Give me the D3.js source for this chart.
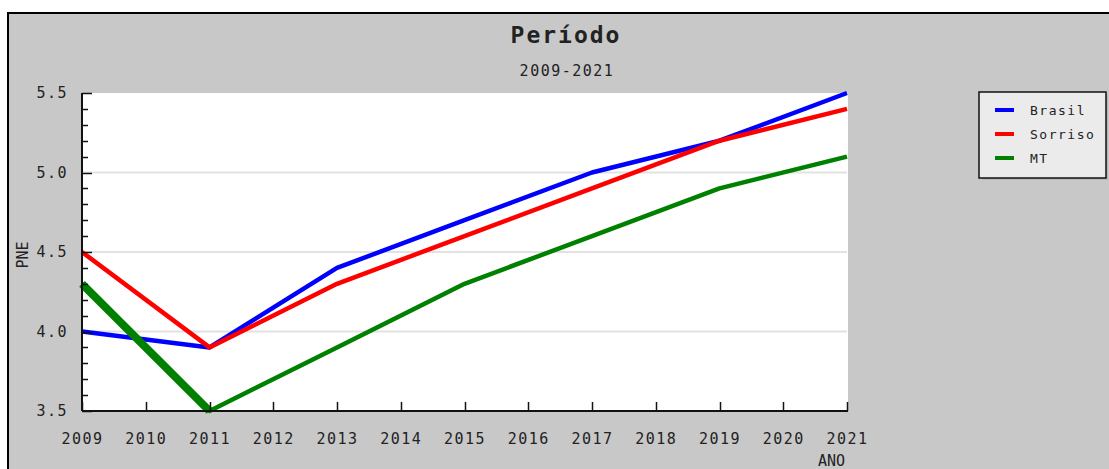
<!DOCTYPE html>
<html>
<head>
<script src="https://d3js.org/d3.v7.min.js"></script>
<style>
  body { margin: 0; background: #fff; }
  text { font-family: "DejaVu Sans Mono", monospace; fill: #222; }
</style>
<title>Período</title>
</head>
<body>
<script>
// data
var years = [2009, 2011, 2013, 2015, 2017, 2019, 2021];
var brasil = [4.0, 3.9, 4.4, 4.7, 5.0, 5.2, 5.5];
var sorriso = [4.5, 3.9, 4.3, 4.6, 4.9, 5.2, 5.4];
var mt = [4.3, 3.5, 3.9, 4.3, 4.6, 4.9, 5.1];
var seriesNames = ["Brasil", "Sorriso", "MT"];
var seriesColors = ["#0000ff", "#ff0000", "#008000"];
var yTicks = [3.5, 4.0, 4.5, 5.0, 5.5];
var xTicks = d3.range(2009, 2022);

var width = 1109, height = 469;
var svg = d3.select("body").append("svg")
    .attr("width", width).attr("height", height);

// outer panel
svg.append("rect")
    .attr("x", 8).attr("y", 13)
    .attr("width", width + 20).attr("height", height + 20)
    .attr("fill", "#c8c8c8")
    .attr("stroke", "#000").attr("stroke-width", 2);

var pLeft = 82, pRight = 847, pTop = 93, pBottom = 411;
var x = d3.scaleLinear().domain([2009, 2021]).range([pLeft, pRight]);
var y = d3.scaleLinear().domain([3.5, 5.5]).range([pBottom, pTop]);

svg.append("rect")
    .attr("x", pLeft).attr("y", pTop)
    .attr("width", pRight - pLeft + 1).attr("height", pBottom - pTop)
    .attr("fill", "#fff");

// grid
svg.selectAll(".grid").data(yTicks.slice(1, -1)).enter()
    .append("line")
    .attr("x1", pLeft).attr("x2", pRight)
    .attr("y1", d => y(d)).attr("y2", d => y(d))
    .attr("stroke", "#e2e2e2").attr("stroke-width", 2);

// titles
svg.append("text").attr("x", 566).attr("y", 43)
    .attr("text-anchor", "middle")
    .style("font-size", "23px").style("font-weight", "bold")
    .style("letter-spacing", "2px")
    .text("Período");
svg.append("text").attr("x", 567).attr("y", 76)
    .attr("text-anchor", "middle")
    .style("font-size", "15px").style("letter-spacing", "1.5px")
    .text("2009-2021");

// lines
var line = d3.line().x((d, i) => x(years[i])).y(d => y(d));
var all = [brasil, sorriso, mt];
all.forEach(function (s, k) {
    svg.append("path")
        .attr("d", line(s))
        .attr("fill", "none")
        .attr("stroke", seriesColors[k])
        .attr("stroke-width", 4.5)
        .attr("stroke-linejoin", "round");
});
// MT first segment is drawn heavier in the original
svg.append("path")
    .attr("d", line(mt.slice(0, 2)))
    .attr("fill", "none")
    .attr("stroke", seriesColors[2])
    .attr("stroke-width", 8);

// axes
var yAxis = d3.axisLeft(y).tickValues(yTicks).tickFormat(d3.format(".1f")).tickSize(0).tickPadding(14);
var gy = svg.append("g").attr("transform", "translate(" + pLeft + ",0)").call(yAxis);
gy.select(".domain").remove();
gy.selectAll("text").style("font-size", "15px").style("letter-spacing", "1.5px")
    .attr("font-family", null).attr("fill", "#222");

var xAxis = d3.axisBottom(x).tickValues(xTicks).tickFormat(d3.format("d")).tickSize(0).tickPadding(22);
var gx = svg.append("g").attr("transform", "translate(0," + pBottom + ")").call(xAxis);
gx.select(".domain").remove();
gx.selectAll("text").style("font-size", "15px").style("letter-spacing", "1.5px")
    .attr("font-family", null).attr("fill", "#222");

// inner ticks
var minor = d3.range(35, 56).map(d => d / 10);
svg.selectAll(".ytick").data(minor).enter().append("line")
    .attr("x1", pLeft).attr("x2", (d, i) => pLeft + (i % 5 === 0 ? 10 : 6))
    .attr("y1", d => Math.round(y(d)) + 0.5).attr("y2", d => Math.round(y(d)) + 0.5)
    .attr("stroke", "#111").attr("stroke-width", 1.5);
svg.selectAll(".xtick").data(xTicks).enter().append("line")
    .attr("x1", d => Math.round(x(d)) + 0.5).attr("x2", d => Math.round(x(d)) + 0.5)
    .attr("y1", pBottom).attr("y2", pBottom - 9)
    .attr("stroke", "#111").attr("stroke-width", 1.5);

svg.append("line").attr("x1", pLeft).attr("x2", pLeft).attr("y1", pTop).attr("y2", pBottom)
    .attr("stroke", "#111").attr("stroke-width", 2);
svg.append("line").attr("x1", pLeft).attr("x2", pRight + 1).attr("y1", pBottom).attr("y2", pBottom)
    .attr("stroke", "#111").attr("stroke-width", 2);

// axis titles
svg.append("text").attr("x", 845).attr("y", 466)
    .attr("text-anchor", "end").style("font-size", "15px")
    .text("ANO");
svg.append("text")
    .attr("transform", "translate(28,255) rotate(-90)")
    .attr("text-anchor", "middle").style("font-size", "15px")
    .text("PNE");

// legend
var lg = svg.append("g");
lg.append("rect").attr("x", 982).attr("y", 95).attr("width", 126).attr("height", 85)
    .attr("fill", "#b8b8b8");
lg.append("rect").attr("x", 979).attr("y", 92).attr("width", 127).attr("height", 86)
    .attr("fill", "#ebebeb").attr("stroke", "#111").attr("stroke-width", 1.5);
seriesNames.forEach(function (n, i) {
    var yy = 110 + i * 24;
    lg.append("line").attr("x1", 995).attr("x2", 1014).attr("y1", yy).attr("y2", yy)
        .attr("stroke", seriesColors[i]).attr("stroke-width", 4);
    lg.append("text").attr("x", 1030).attr("y", yy + 5)
        .style("font-size", "13px").style("letter-spacing", "1.5px")
        .text(n);
});
</script>
</body>
</html>
